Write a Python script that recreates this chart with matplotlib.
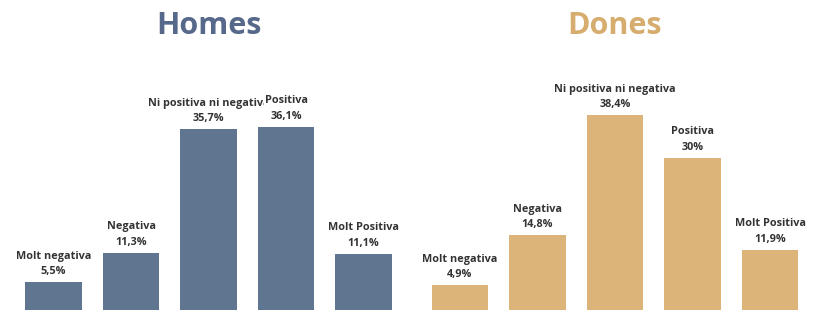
import matplotlib.pyplot as plt

# Survey answers, split by gender
categories = ["Molt negativa", "Negativa", "Ni positiva ni negativa", "Positiva", "Molt Positiva"]
homes = [5.5, 11.3, 35.7, 36.1, 11.1]
dones = [4.9, 14.8, 38.4, 30.0, 11.9]

homes_color = "#5f7590"
dones_color = "#dcb479"
homes_title = "#56698a"
dones_title = "#d6ad6e"
text_color = "#333333"

plt.rcParams['font.family'] = ['Open Sans', 'DejaVu Sans']

W, H = 813, 310
fig = plt.figure(figsize=(W / 100, H / 100), dpi=100)

pitch = 77.5          # px between bar centres
px_per_pct = 5.08     # px per percentage point


def fmt(v):
    return f"{v:g}".replace('.', ',') + "%"


def panel(left_px, values, color, title, title_color, title_x):
    ax = fig.add_axes([left_px / W, 0, 5 * pitch / W, 1])
    x = range(len(values))
    ax.bar(x, values, width=0.735, color=color, zorder=1)
    ax.set_xlim(-0.5, 4.5)
    ax.set_ylim(0, H / px_per_pct)
    ax.axis('off')
    for i, (cat, v) in enumerate(zip(categories, values)):
        ax.annotate(fmt(v), (i, v), xytext=(0, 3.5), textcoords='offset points',
                    ha='center', va='bottom', fontsize=7.8, fontweight='bold',
                    color=text_color, zorder=2 + i)
        ax.annotate(cat, (i, v), xytext=(0, 14.5), textcoords='offset points',
                    ha='center', va='bottom', fontsize=7.8, fontweight='bold',
                    color=text_color, zorder=2 + i,
                    bbox=dict(boxstyle='square,pad=0.05', fc='white', ec='none'))
    fig.text(title_x / W, 1 - 26 / H, title, ha='center', va='center',
             fontsize=22, fontweight='bold', color=title_color)
    return ax


panel(14.75, homes, homes_color, "Homes", homes_title, 209)
panel(421.25, dones, dones_color, "Dones", dones_title, 614)

fig.savefig("out.png", dpi=100, facecolor='white')
